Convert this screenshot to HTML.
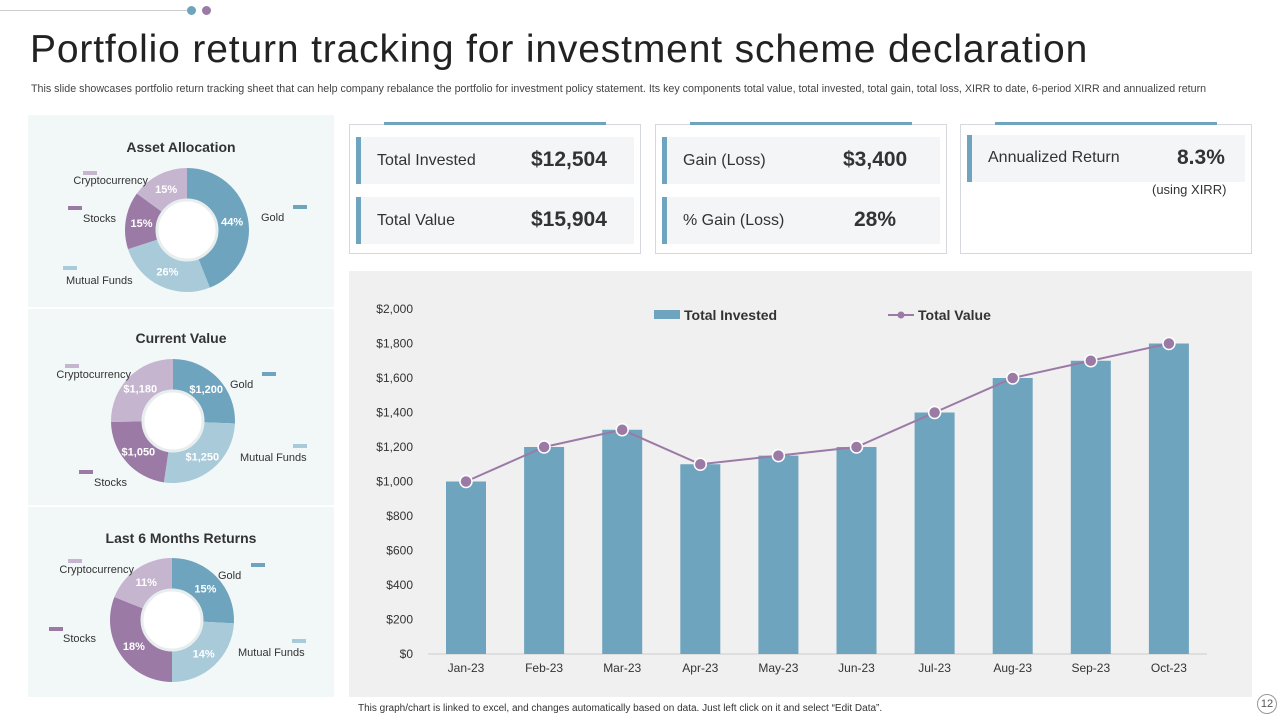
<!DOCTYPE html>
<html><head><meta charset="utf-8"><style>
body{margin:0;width:1280px;height:720px;background:#fff;font-family:"Liberation Sans",sans-serif;position:relative;overflow:hidden;color:#333}
.abs{position:absolute}
.card{position:absolute;top:124px;width:290px;height:128px;border:1px solid #d5d9dd;background:#fff}
.card .topbar{position:absolute;top:-3px;left:34px;width:222px;height:3px;background:#6fa4bf}
.row{position:absolute;left:6px;width:278px;height:47px;background:#f3f5f7}
.row .acc{position:absolute;left:0;top:0;width:5px;height:47px;background:#6fa4bf}
.row .lab{position:absolute;left:21px;top:15px;font-size:16px;color:#333}
.row .val{position:absolute;top:11px;font-size:21px;font-weight:bold;color:#333}
</style></head><body>
<div class="abs" style="left:0;top:10px;width:190px;height:1px;background:#ccc"></div>
<div class="abs" style="left:187px;top:6px;width:9px;height:9px;border-radius:50%;background:#6fa4bf"></div>
<div class="abs" style="left:202px;top:6px;width:9px;height:9px;border-radius:50%;background:#9b7aa6"></div>
<div class="abs" style="left:30px;top:28px;font-size:39px;color:#222;letter-spacing:0.85px">Portfolio return tracking for investment scheme declaration</div>
<div class="abs" style="left:31px;top:83px;font-size:10.7px;color:#444">This slide showcases portfolio return tracking sheet that can help company rebalance the portfolio for investment policy statement. Its key components total value, total invested, total gain, total loss, XIRR to date, 6-period XIRR and annualized return</div>

<div class="abs" style="left:28px;top:115px;width:306px;height:582px;background:#f2f7f8"></div>
<div class="abs" style="left:28px;top:307px;width:306px;height:2px;background:#fff"></div>
<div class="abs" style="left:28px;top:505px;width:306px;height:2px;background:#fff"></div>
<svg id="donuts" class="abs" style="left:0;top:0" width="340" height="720"></svg>

<div class="card" style="left:349px"><div class="topbar"></div>
 <div class="row" style="top:12px"><div class="acc"></div><div class="lab">Total Invested</div><div class="val" style="left:175px">$12,504</div></div>
 <div class="row" style="top:72px"><div class="acc"></div><div class="lab">Total Value</div><div class="val" style="left:175px">$15,904</div></div></div>
<div class="card" style="left:655px"><div class="topbar"></div>
 <div class="row" style="top:12px"><div class="acc"></div><div class="lab">Gain (Loss)</div><div class="val" style="left:181px">$3,400</div></div>
 <div class="row" style="top:72px"><div class="acc"></div><div class="lab">% Gain (Loss)</div><div class="val" style="left:192px">28%</div></div></div>
<div class="card" style="left:960px"><div class="topbar"></div>
 <div class="row" style="top:10px"><div class="acc"></div><div class="lab" style="top:14px;left:21px">Annualized Return</div><div class="val" style="left:210px">8.3%</div></div>
 <div class="abs" style="left:191px;top:57px;font-size:13px;color:#333">(using XIRR)</div></div>

<div class="abs" style="left:349px;top:271px;width:903px;height:426px;background:#f0f0f0"></div>
<svg id="chart" class="abs" style="left:0;top:0" width="1280" height="720"></svg>
<div class="abs" style="left:358px;top:703px;font-size:10px;color:#333">This graph/chart is linked to excel, and changes automatically based on data. Just left click on it and select “Edit Data”.</div>
<div class="abs" style="left:1257px;top:694px;width:18px;height:18px;border:1px solid #999;border-radius:50%;font-size:11px;text-align:center;line-height:18px;color:#555">12</div>

<script>
const months=["Jan-23","Feb-23","Mar-23","Apr-23","May-23","Jun-23","Jul-23","Aug-23","Sep-23","Oct-23"];
const invested=[1000,1200,1300,1100,1150,1200,1400,1600,1700,1800];
const totalValue=[1000,1200,1300,1100,1150,1200,1400,1600,1700,1800];
const yTicks=[0,200,400,600,800,1000,1200,1400,1600,1800,2000];
const allocLabels=["Gold","Mutual Funds","Stocks","Cryptocurrency"];
const assetAlloc=[44,26,15,15];
const currentVal=[1200,1250,1050,1180];
const sixMonth=[15,14,18,11];
const NS="http://www.w3.org/2000/svg";
function mk(p,t,a){const e=document.createElementNS(NS,t);for(const k in a)e.setAttribute(k,a[k]);p.appendChild(e);return e;}
const ch=document.getElementById('chart');
const y=v=>654-v/2000*345;
const x=i=>466+i*78.1;
yTicks.forEach(t=>{const e=mk(ch,'text',{x:413,y:y(t)+4,'text-anchor':'end','font-size':12,fill:'#333'});e.textContent='$'+t.toLocaleString('en-US');
});
mk(ch,'line',{x1:428,y1:654,x2:1207,y2:654,stroke:'#ccc'});
months.forEach((m,i)=>{const r=mk(ch,'rect',{x:x(i)-20,y:y(invested[i]),width:40,height:654-y(invested[i]),fill:'#6fa4bf'});

const t=mk(ch,'text',{x:x(i),y:672,'text-anchor':'middle','font-size':12,fill:'#333'});t.textContent=m;
});
mk(ch,'polyline',{points:totalValue.map((v,i)=>x(i)+','+y(v)).join(' '),fill:'none',stroke:'#9b7aa6','stroke-width':2});
totalValue.forEach((v,i)=>{const c=mk(ch,'circle',{cx:x(i),cy:y(v),r:6,fill:'#9b7aa6',stroke:'#fff','stroke-width':1.5});
});
mk(ch,'rect',{x:654,y:310,width:26,height:9,fill:'#6fa4bf'});
let lt=mk(ch,'text',{x:684,y:320,'font-size':14,'font-weight':'bold',fill:'#333'});lt.textContent='Total Invested';

mk(ch,'line',{x1:888,y1:315,x2:914,y2:315,stroke:'#9b7aa6','stroke-width':2});
mk(ch,'circle',{cx:901,cy:315,r:3.5,fill:'#9b7aa6'});
lt=mk(ch,'text',{x:918,y:320,'font-size':14,'font-weight':'bold',fill:'#333'});lt.textContent='Total Value';

const dn=document.getElementById('donuts');
const cols=["#6fa4bf","#a9cad9","#9b7aa6","#c6b5cf"];
function donut(title,ty,cx,cy,vals,fmt,labPos){
 const tt=mk(dn,'text',{x:181,y:ty,'text-anchor':'middle','font-size':14,'font-weight':'bold',fill:'#333'});tt.textContent=title;
 
 const tot=vals.reduce((a,b)=>a+b,0);let a0=0;const R=62,r=30;
 vals.forEach((v,i)=>{const a1=a0+v/tot*2*Math.PI;
  const P=(rr,a)=>[cx+rr*Math.sin(a),cy-rr*Math.cos(a)];
  const [x1,y1]=P(R,a0),[x2,y2]=P(R,a1),[x3,y3]=P(r,a1),[x4,y4]=P(r,a0);const lg=a1-a0>Math.PI?1:0;
  const p=mk(dn,'path',{d:`M${x1},${y1}A${R},${R} 0 ${lg} 1 ${x2},${y2}L${x3},${y3}A${r},${r} 0 ${lg} 0 ${x4},${y4}Z`,fill:cols[i]});
  
  const am=(a0+a1)/2;const [lx,ly]=P(46,am);
  const t=mk(dn,'text',{x:lx,y:ly+4,'text-anchor':'middle','font-size':11,'font-weight':'bold',fill:'#fff'});t.textContent=fmt(v);
  
  a0=a1;});
 mk(dn,'circle',{cx:cx,cy:cy,r:r,fill:'#fff',stroke:'#e8eeee','stroke-width':3});
 labPos.forEach((lp,i)=>{mk(dn,'rect',{x:lp[2],y:lp[3],width:14,height:4,fill:cols[i]});
  const t=mk(dn,'text',{x:lp[0],y:lp[1],'font-size':11,fill:'#333','text-anchor':lp[4]||'start'});t.textContent=allocLabels[i];
  });
}
donut("Asset Allocation",152,187,230,assetAlloc,v=>v+'%',[[261,221,293,205],[66,284,63,266],[116,222,68,206,'end'],[148,184,83,171,'end']]);
donut("Current Value",343,173,421,currentVal,v=>'$'+v.toLocaleString('en-US'),[[230,388,262,372],[240,461,293,444],[127,486,79,470,'end'],[131,378,65,364,'end']]);
donut("Last 6 Months Returns",543,172,620,sixMonth,v=>v+'%',[[218,579,251,563],[238,656,292,639],[96,642,49,627,'end'],[134,573,68,559,'end']]);
</script>
</body></html>
